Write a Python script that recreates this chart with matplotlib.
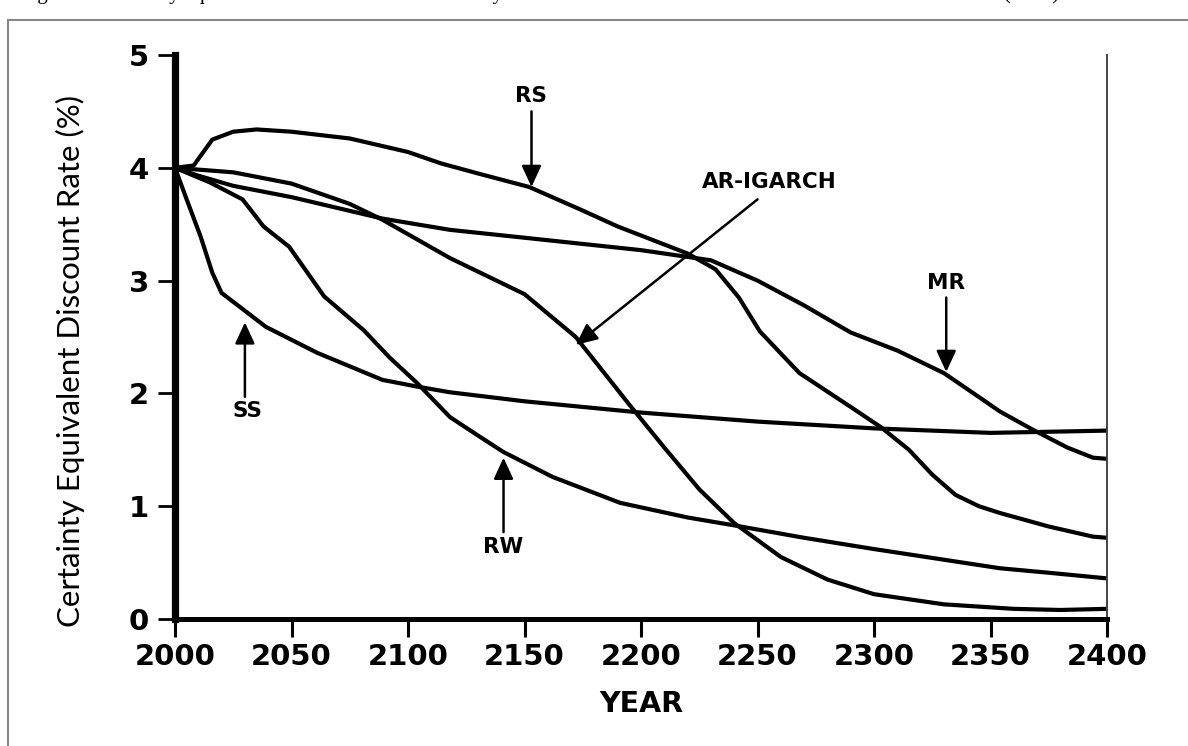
import matplotlib
matplotlib.use('Agg')
import matplotlib.pyplot as plt
from matplotlib.lines import Line2D

# certainty equivalent discount rate (%) by model
rs_year = [2000, 2008, 2016, 2025, 2035, 2050, 2075, 2100, 2114, 2130, 2152, 2174,
           2190, 2205, 2220, 2232, 2242, 2251, 2268, 2290, 2303, 2315, 2325, 2335,
           2345, 2354, 2375, 2394, 2400]
rs_rate = [4.0, 4.02, 4.25, 4.32, 4.34, 4.32, 4.26, 4.14, 4.04, 3.95, 3.83, 3.63,
           3.48, 3.36, 3.24, 3.1, 2.85, 2.55, 2.18, 1.88, 1.7, 1.5, 1.28, 1.1,
           1.0, 0.94, 0.82, 0.73, 0.72]

mr_year = [2000, 2010, 2025, 2050, 2089, 2118, 2150, 2200, 2230, 2250, 2270, 2290,
           2310, 2330, 2347, 2354, 2368, 2383, 2394, 2400]
mr_rate = [4.0, 3.93, 3.84, 3.74, 3.55, 3.45, 3.38, 3.27, 3.18, 3.0, 2.78, 2.54,
           2.38, 2.18, 1.94, 1.84, 1.68, 1.52, 1.43, 1.42]

ar_year = [2000, 2025, 2050, 2075, 2089, 2118, 2150, 2172, 2195, 2210, 2225, 2240,
           2260, 2280, 2300, 2330, 2360, 2380, 2400]
ar_rate = [4.0, 3.96, 3.86, 3.68, 3.54, 3.2, 2.88, 2.5, 1.9, 1.52, 1.15, 0.85,
           0.55, 0.35, 0.22, 0.13, 0.09, 0.08, 0.09]

ss_year = [2000, 2005, 2011, 2016, 2020, 2027, 2039, 2061, 2089, 2104, 2118, 2150,
           2200, 2250, 2300, 2350, 2400]
ss_rate = [4.0, 3.72, 3.39, 3.07, 2.89, 2.78, 2.59, 2.36, 2.12, 2.06, 2.01, 1.93,
           1.83, 1.75, 1.69, 1.65, 1.67]

rw_year = [2000, 2015, 2029, 2038, 2049, 2064, 2081, 2092, 2104, 2118, 2132, 2141,
           2162, 2191, 2220, 2240, 2270, 2300, 2354, 2375, 2400]
rw_rate = [4.0, 3.87, 3.72, 3.48, 3.3, 2.86, 2.56, 2.32, 2.09, 1.79, 1.6, 1.48,
           1.26, 1.03, 0.9, 0.83, 0.72, 0.62, 0.45, 0.41, 0.36]

# label text, label position, arrow tail, arrow tip
labels = [
    ('RS', (2153, 4.64), (2153, 4.50), (2153, 3.83)),
    ('AR-IGARCH', (2255, 3.87), (2250, 3.72), (2172, 2.43)),
    ('MR', (2331, 2.98), (2331, 2.85), (2331, 2.19)),
    ('SS', (2031, 1.84), (2030, 1.97), (2030, 2.63)),
    ('RW', (2141, 0.64), (2141, 0.77), (2141, 1.43)),
]

fig = plt.figure(figsize=(11.88, 7.46), dpi=100)
ax = fig.add_axes([175/1188, 127/746, (1107-175)/1188, (619-55)/746])

for yr, rate in [(rs_year, rs_rate), (mr_year, mr_rate), (ar_year, ar_rate),
                 (ss_year, ss_rate), (rw_year, rw_rate)]:
    ax.plot(yr, rate, color='black', lw=3, solid_capstyle='butt',
            solid_joinstyle='round', clip_on=False)

for text, pos, tail, tip in labels:
    ax.text(pos[0], pos[1], text, ha='center', va='center',
            fontsize=15.5, fontweight='bold', family='DejaVu Sans')
    ax.annotate('', xy=tip, xytext=tail,
                arrowprops=dict(arrowstyle='-|>,head_length=1.3,head_width=0.6',
                                color='black', lw=1.8, shrinkA=0, shrinkB=0))

ax.set_xlim(2000, 2400)
ax.set_ylim(0, 5)
ax.set_xticks(range(2000, 2401, 50))
ax.set_yticks(range(0, 6))
ax.tick_params(axis='x', length=13, width=2.2, pad=4, labelsize=21)
ax.tick_params(axis='y', length=12.5, width=2.0, pad=6, labelsize=21)
for lab in ax.get_xticklabels() + ax.get_yticklabels():
    lab.set_fontweight('bold')

ax.spines['left'].set_linewidth(5.2)
ax.spines['bottom'].set_linewidth(3.6)
ax.spines['top'].set_visible(False)
ax.spines['right'].set_linewidth(1.4)
ax.spines['right'].set_color('#444444')

ax.set_xlabel('YEAR', fontsize=20.5, fontweight='bold', labelpad=14)
fig.text(70/1188, 1 - 361/746, 'Certainty Equivalent Discount Rate (%)',
         rotation=90, ha='center', va='center', fontsize=22.5, family='Lato')

# frame around the figure; the caption sits above it, mostly off the page
fig.add_artist(Line2D([8/1188, 8/1188], [0, 1 - 20/746], color='#888888', lw=1.5))
fig.add_artist(Line2D([8/1188, 1], [1 - 20/746, 1 - 20/746], color='#888888', lw=1.5))
fig.text(20/1188, 1 + 0.5/746,
         'Figure 3: Certainty equivalent discount rates over a 400 year horizon for the '
         'five interest rate models of Groom et al. (2007)',
         ha='left', va='baseline', fontsize=15, family='Liberation Serif')

fig.savefig('out.png', dpi=100)
